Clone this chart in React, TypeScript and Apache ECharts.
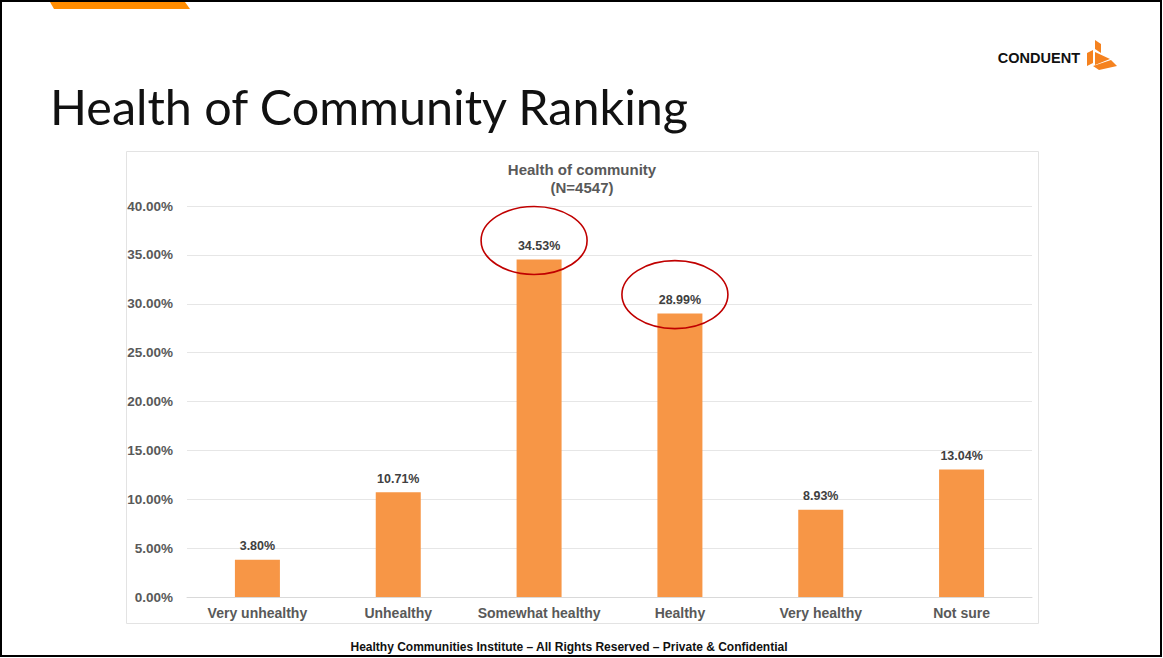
import React, { useEffect, useRef } from "react";
import * as echarts from "echarts";

const categories = ["Very unhealthy", "Unhealthy", "Somewhat healthy", "Healthy", "Very healthy", "Not sure"];
const values = [3.8, 10.71, 34.53, 28.99, 8.93, 13.04];
const highlighted = ["Somewhat healthy", "Healthy"];
const yMax = 40;
const yInterval = 5;
const slideTitle = "Health of Community Ranking";
const chartTitle = "Health of community";
const chartSubtitle = "(N=4547)";
const footer = "Healthy Communities Institute \u2013 All Rights Reserved \u2013 Private & Confidential";
const brand = "CONDUENT";

const FONT = "'Liberation Sans', Arial, sans-serif";
const GRAY = "#595959";

export default function App() {
  const ref = useRef<HTMLDivElement>(null);
  useEffect(() => {
    if (!ref.current) return;
    const chart = echarts.init(ref.current, null, { renderer: "svg" });
    const baseGraphics: any[] = [
      // page border
      { type: "rect", z: 100, shape: { x: 1, y: 1, width: 1160, height: 655 }, style: { fill: "none", stroke: "#000", lineWidth: 2 } },
      // top orange tab
      { type: "polygon", shape: { points: [[50, 2], [185, 2], [190, 9], [54, 9]] }, style: { fill: "#FF8C00" } },
      // chart box
      { type: "rect", shape: { x: 126.5, y: 151.5, width: 912, height: 472 }, style: { fill: "none", stroke: "#E3E3E3", lineWidth: 1 } },
      // slide title
      { type: "text", x: 50, y: 130, style: { text: slideTitle, font: "48.5px Lato, 'Open Sans', sans-serif", fill: "#111", verticalAlign: "bottom" } },
      // chart title
      { type: "text", x: 582, y: 160, style: { text: chartTitle + "\n" + chartSubtitle, font: `bold 15px ${FONT}`, fill: GRAY, align: "center", lineHeight: 18 } },
      // footer
      { type: "text", x: 569, y: 647, style: { text: footer, font: `bold 12px ${FONT}`, fill: "#111", align: "center", verticalAlign: "middle" } },
      // brand
      { type: "text", x: 1080, y: 58, style: { text: brand, font: `900 14.5px ${FONT}`, fill: "#111", align: "right", verticalAlign: "middle" } },
      { type: "polygon", shape: { points: [[1095, 40], [1101, 44], [1101, 53], [1095, 49]] }, style: { fill: "#F5821F" } },
      { type: "polygon", shape: { points: [[1087, 53], [1093, 50], [1093, 63], [1087, 66]] }, style: { fill: "#F5821F" } },
      { type: "polygon", shape: { points: [[1095, 52], [1110, 59], [1095, 65]] }, style: { fill: "#F5821F" } },
      { type: "polygon", shape: { points: [[1093, 66], [1111, 60], [1117, 66], [1099, 70]] }, style: { fill: "#F5821F" } },
    ];
    const option: any = {
      animation: false,
      backgroundColor: "#fff",
      grid: { left: 187, right: 131, top: 206, bottom: 61, containLabel: false },
      xAxis: {
        type: "category",
        data: categories,
        axisLine: { show: true, lineStyle: { color: "#D9D9D9", width: 1 } },
        axisTick: { show: false },
        axisLabel: { interval: 0, color: GRAY, fontFamily: FONT, fontWeight: "bold", fontSize: 14, margin: 9 },
      },
      yAxis: {
        type: "value",
        min: 0,
        max: yMax,
        interval: yInterval,
        axisLine: { show: false },
        axisTick: { show: false },
        splitLine: { lineStyle: { color: "#E6E6E6", width: 1 } },
        axisLabel: {
          color: GRAY,
          fontFamily: FONT,
          fontWeight: "bold",
          fontSize: 13.5,
          margin: 14,
          formatter: (v: number) => v.toFixed(2) + "%",
        },
      },
      series: [
        {
          type: "bar",
          data: values,
          barWidth: 45,
          itemStyle: { color: "#F79646" },
          label: {
            show: true,
            position: "top",
            distance: 7,
            color: "#404040",
            fontFamily: FONT,
            fontWeight: "bold",
            fontSize: 12.5,
            formatter: (p: any) => Number(p.value).toFixed(2) + "%",
          },
        },
      ],
      graphic: baseGraphics,
    };
    chart.setOption(option);
    const ellipses = highlighted.map((c) => {
      const idx = categories.indexOf(c);
      const pt = chart.convertToPixel({ seriesIndex: 0 }, [idx, values[idx]]) as number[];
      return {
        type: "ellipse",
        z: 50,
        shape: { cx: pt[0] - 5, cy: pt[1] - 19, rx: 53, ry: 34 },
        style: { fill: "none", stroke: "#C00000", lineWidth: 1.6 },
      };
    });
    chart.setOption({ graphic: [...baseGraphics, ...ellipses] });
    return () => chart.dispose();
  }, []);
  return <div ref={ref} style={{ position: "fixed", left: 0, top: 0, width: 1163, height: 658 }} />;
}
